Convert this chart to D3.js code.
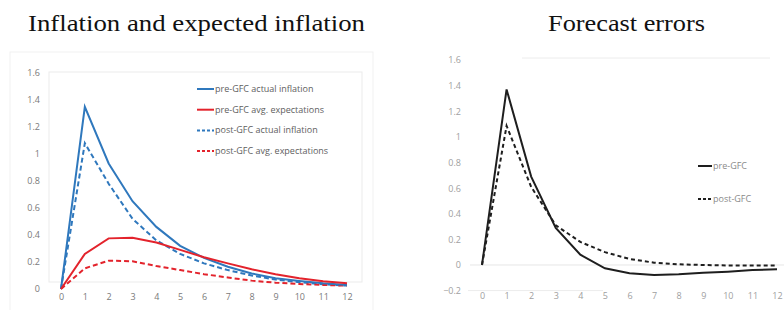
<!DOCTYPE html>
<html>
<head>
<meta charset="utf-8">
<script src="https://cdn.jsdelivr.net/npm/d3@7"></script>
<style>
  body { margin: 0; background: #fff; }
  svg { display: block; }
</style>
</head>
<body>
<div id="chart"></div>
<script>
// horizons 0..12 quarters
const horizons = [0, 1, 2, 3, 4, 5, 6, 7, 8, 9, 10, 11, 12];

// left panel: inflation and expected inflation
const preActual  = [0, 1.35, 0.93, 0.65, 0.46, 0.32, 0.23, 0.165, 0.115, 0.08, 0.06, 0.042, 0.03];
const preExpect  = [0, 0.26, 0.375, 0.38, 0.345, 0.29, 0.235, 0.19, 0.146, 0.11, 0.08, 0.057, 0.042];
const postActual = [0, 1.08, 0.78, 0.52, 0.36, 0.26, 0.19, 0.14, 0.10, 0.07, 0.05, 0.035, 0.025];
const postExpect = [0, 0.153, 0.21, 0.205, 0.17, 0.14, 0.11, 0.085, 0.062, 0.047, 0.037, 0.03, 0.025];
const leftTicks = [0, 0.2, 0.4, 0.6, 0.8, 1, 1.2, 1.4, 1.6];

// right panel: forecast errors
const preError  = [0, 1.37, 0.69, 0.29, 0.08, -0.026, -0.065, -0.078, -0.073, -0.06, -0.052, -0.04, -0.034];
const postError = [0, 1.086, 0.61, 0.31, 0.18, 0.10, 0.047, 0.018, 0.005, 0, -0.004, -0.005, -0.005];
const rightTicks = [-0.2, 0, 0.2, 0.4, 0.6, 0.8, 1, 1.2, 1.4, 1.6];

const W = 784, H = 310;
const svg = d3.select("#chart").append("svg")
    .attr("width", W)
    .attr("height", H);

svg.append("rect").attr("width", W).attr("height", H).attr("fill", "#fff");

const tickFont = "'Open Sans', 'Liberation Sans', sans-serif";

// titles (latex style serif, stretched to match the computer modern width)
svg.append("text")
    .attr("x", 28).attr("y", 31)
    .attr("font-family", "'Liberation Serif', serif")
    .attr("font-size", 24)
    .attr("textLength", 337)
    .attr("lengthAdjust", "spacingAndGlyphs")
    .attr("fill", "#111")
    .text("Inflation and expected inflation");

svg.append("text")
    .attr("x", 548).attr("y", 31)
    .attr("font-family", "'Liberation Serif', serif")
    .attr("font-size", 24)
    .attr("textLength", 157)
    .attr("lengthAdjust", "spacingAndGlyphs")
    .attr("fill", "#111")
    .text("Forecast errors");

// ---------- left panel ----------
const xL = d3.scaleLinear().domain([0, 12]).range([61, 347]);
const yL = d3.scaleLinear().domain([0, 1.6]).range([289, 73]);

// faint frames from the scanned excel chart
svg.append("rect")
    .attr("x", 10).attr("y", 52).attr("width", 363).attr("height", 262)
    .attr("fill", "none").attr("stroke", "#f1f1f1");
svg.append("rect")
    .attr("x", 49).attr("y", 72).attr("width", 313).attr("height", 210)
    .attr("fill", "none").attr("stroke", "#ebebeb");

const gL = svg.append("g");

gL.append("g")
    .attr("transform", "translate(40,0)")
    .call(d3.axisLeft(yL).tickValues(leftTicks).tickSize(0).tickPadding(0).tickFormat(d3.format("~g")))
    .call(g => g.select(".domain").remove())
    .call(g => g.selectAll("text")
        .attr("font-family", tickFont).attr("font-size", 9).attr("fill", "#7a7a7a"));

gL.append("g")
    .attr("transform", "translate(0,294)")
    .call(d3.axisBottom(xL).tickValues(horizons).tickSize(0).tickPadding(0).tickFormat(d3.format("d")))
    .call(g => g.select(".domain").remove())
    .call(g => g.selectAll("text")
        .attr("font-family", tickFont).attr("font-size", 9).attr("fill", "#7a7a7a"));

const leftSeries = [
    {name: "pre-GFC actual inflation", values: preActual, color: "#2f78bd", dash: null},
    {name: "pre-GFC avg. expectations", values: preExpect, color: "#e3232c", dash: null},
    {name: "post-GFC actual inflation", values: postActual, color: "#2f78bd", dash: "5,3"},
    {name: "post-GFC avg. expectations", values: postExpect, color: "#e3232c", dash: "5,3"}
];

const lineL = d3.line()
    .x((d, i) => xL(horizons[i]))
    .y(d => yL(d));

// draw dashed first, solid on top
[2, 3, 0, 1].forEach(k => {
    const s = leftSeries[k];
    gL.append("path")
        .datum(s.values)
        .attr("fill", "none")
        .attr("stroke", s.color)
        .attr("stroke-width", 2)
        .attr("stroke-dasharray", s.dash)
        .attr("d", lineL);
});

const legL = gL.append("g").attr("transform", "translate(197,89)");
leftSeries.forEach((s, i) => {
    const row = legL.append("g").attr("transform", `translate(0,${i * 20.7})`);
    row.append("line")
        .attr("x1", 0).attr("x2", 17).attr("y1", 0).attr("y2", 0)
        .attr("stroke", s.color).attr("stroke-width", 2)
        .attr("stroke-dasharray", s.dash ? "3,2" : null);
    row.append("text")
        .attr("x", 18).attr("y", 3)
        .attr("font-family", tickFont).attr("font-size", 9)
        .attr("fill", "#606060")
        .text(s.name);
});

// ---------- right panel ----------
const xR = d3.scaleLinear().domain([0, 12]).range([482, 777]);
const yR = d3.scaleLinear().domain([-0.2, 1.6]).range([290.6, 60]);

const gR = svg.append("g");

// faint lines
gR.append("line")
    .attr("x1", 522).attr("x2", 770).attr("y1", 58).attr("y2", 58)
    .attr("stroke", "#ececec");
gR.append("line")
    .attr("x1", 470).attr("x2", 784).attr("y1", yR(0)).attr("y2", yR(0))
    .attr("stroke", "#e6e6e6");
gR.append("line")
    .attr("x1", 468).attr("x2", 603).attr("y1", yR(-0.2)).attr("y2", yR(-0.2))
    .attr("stroke", "#ececec");

gR.append("g")
    .attr("transform", "translate(461,0)")
    .call(d3.axisLeft(yR).tickValues(rightTicks).tickSize(0).tickPadding(0).tickFormat(d3.format("~g")))
    .call(g => g.select(".domain").remove())
    .call(g => g.selectAll("text")
        .attr("font-family", tickFont).attr("font-size", 9).attr("fill", "#a0a0a0"));

gR.append("g")
    .attr("transform", "translate(0,293)")
    .call(d3.axisBottom(xR).tickValues(horizons).tickSize(0).tickPadding(0).tickFormat(d3.format("d")))
    .call(g => g.select(".domain").remove())
    .call(g => g.selectAll("text")
        .attr("font-family", tickFont).attr("font-size", 9).attr("fill", "#a0a0a0"));

const lineR = d3.line()
    .x((d, i) => xR(horizons[i]))
    .y(d => yR(d));

const rightSeries = [
    {name: "pre-GFC", values: preError, dash: null},
    {name: "post-GFC", values: postError, dash: "4,3"}
];

rightSeries.slice().reverse().forEach(s => {
    gR.append("path")
        .datum(s.values)
        .attr("fill", "none")
        .attr("stroke", "#1e1e1e")
        .attr("stroke-width", 2)
        .attr("stroke-dasharray", s.dash)
        .attr("d", lineR);
});

const legR = gR.append("g").attr("transform", "translate(698,166)");
rightSeries.forEach((s, i) => {
    const row = legR.append("g").attr("transform", `translate(0,${i * 33})`);
    row.append("line")
        .attr("x1", 0).attr("x2", 14).attr("y1", 0).attr("y2", 0)
        .attr("stroke", "#1e1e1e").attr("stroke-width", 2)
        .attr("stroke-dasharray", s.dash ? "3,2" : null);
    row.append("text")
        .attr("x", 15).attr("y", 3)
        .attr("font-family", tickFont).attr("font-size", 9)
        .attr("fill", "#8a8a8a")
        .text(s.name);
});
</script>
</body>
</html>
